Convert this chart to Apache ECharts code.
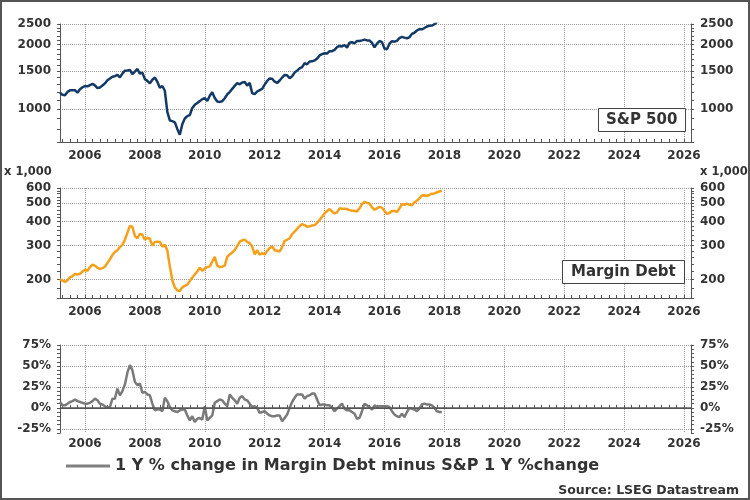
<html>

<head>
    <meta charset="utf-8" />
    <style>
        html, body { margin: 0; padding: 0; background: #fff; }
    </style>
</head>

<body>
    <div id="main" style="width:750px;height:500px"></div>
    <script src="https://cdn.jsdelivr.net/npm/echarts@6.0.0/dist/echarts.min.js"></script>
    <script>
        // monthly data, first point = March 2005
        var startYear = 2005;
        var startMonth = 3;

        // S&P 500, monthly
        var spx = [1191, 1164, 1160, 1202, 1222, 1224, 1225, 1192, 1237, 1262,
            1278, 1276, 1294, 1310, 1290, 1253, 1261, 1287, 1317, 1363, 1389, 1416,
            1424, 1444, 1407, 1464, 1511, 1515, 1523, 1455, 1497, 1539, 1463, 1479,
            1379, 1354, 1317, 1371, 1403, 1341, 1257, 1281, 1217, 968, 883, 877,
            866, 806, 757, 848, 902, 926, 935, 1010, 1045, 1067, 1088, 1111,
            1124, 1090, 1152, 1197, 1125, 1083, 1079, 1087, 1122, 1171, 1199, 1242,
            1282, 1321, 1304, 1331, 1338, 1287, 1325, 1185, 1173, 1207, 1226, 1243,
            1300, 1352, 1389, 1386, 1341, 1323, 1359, 1403, 1443, 1437, 1394, 1422,
            1480, 1512, 1550, 1570, 1639, 1619, 1669, 1671, 1688, 1721, 1781, 1807,
            1823, 1817, 1864, 1864, 1890, 1947, 1973, 1962, 1993, 1937, 2044, 2054,
            2028, 2082, 2080, 2095, 2112, 2095, 2094, 2040, 1944, 2024, 2081, 2055,
            1918, 1904, 2022, 2075, 2066, 2084, 2149, 2177, 2158, 2143, 2165, 2247,
            2275, 2330, 2367, 2359, 2395, 2434, 2454, 2457, 2493, 2557, 2594, 2664];

        // margin debt, x 1,000 (millions)
        var marginDebt = [201, 197, 194, 198, 205, 208, 214, 212, 214, 220,
            225, 222, 232, 239, 236, 230, 227, 229, 233, 244, 255, 268,
            278, 284, 295, 303, 322, 350, 381, 376, 338, 328, 346, 342,
            322, 330, 326, 300, 314, 315, 314, 296, 303, 284, 234, 198,
            182, 175, 174, 182, 185, 188, 196, 204, 212, 220, 230, 222,
            228, 232, 234, 248, 262, 236, 232, 233, 236, 262, 270, 276,
            285, 298, 315, 320, 322, 314, 309, 297, 270, 284, 269, 274,
            270, 282, 291, 298, 284, 282, 280, 295, 318, 322, 328, 345,
            355, 367, 380, 388, 384, 377, 379, 382, 384, 395, 408, 425,
            442, 455, 466, 452, 442, 448, 470, 468, 468, 466, 460, 457,
            456, 452, 470, 495, 508, 502, 498, 475, 462, 470, 478, 474,
            455, 440, 445, 455, 455, 450, 470, 495, 490, 498, 490, 488,
            505, 515, 530, 548, 550, 545, 552, 560, 562, 570, 575, 580];

        // 1Y % change in margin debt minus S&P 1Y % change
        var spread = [7, 3, 3, 5, 7, 8, 10, 8, 7, 6,
            5, 5, 6, 8, 11, 9, 5, 4, 2, 0, 1, 11,
            11, 23, 15, 20, 28, 42, 51, 45, 31, 27, 29, 18,
            19, 16, 15, 5, -3, -2, -2, -4, 12, 8, 1, -3,
            -4, -5, -3, -2, -2, -9, -15, -10, -17, -13, -12, -14,
            2, -15, -12, -9, 6, 8, 10, 9, 5, 2, 16, 12,
            9, 5, 12, 14, 10, 9, 5, 1, 2, 0, -6, -5,
            -4, -7, -9, -10, -10, -9, -9, -16, -12, -8, 0, 7,
            12, 16, 16, 16, 11, 14, 15, 17, 17, 10, 3, 4,
            4, 3, 3, 0, -4, -1, 2, 5, -1, -3, -3, -5,
            -7, -13, -12, -4, 5, 3, 1, -2, 3, 1, 2, 2,
            2, 2, 1, -4, -8, -10, -11, -7, -11, -5, 0, -1,
            -2, -4, -1, 4, 5, 4, 4, 3, 0, -4, -5, -5];

        // axis labels
        var yearTicks = [2006, 2008, 2010, 2012, 2014, 2016, 2018, 2020, 2022, 2024, 2026];
        var spxTicks = [1000, 1500, 2000, 2500];
        var mdTicks = [200, 300, 400, 500, 600];
        var spreadTicks = [-25, 0, 25, 50, 75];

        var spreadName = '1 Y % change in Margin Debt minus S&P 1 Y %change';
        var FONT = 'DejaVu Sans';
        var AXIS = '#555';
        var TXT = '#333';

        var xMin = startYear + (startMonth - 1) / 12;
        var xMax = 2026.234;

        function monthPos(i) {
            return startYear + (startMonth - 1 + i) / 12;
        }
        function pairs(arr) {
            return arr.map(function (v, i) { return [monthPos(i), v]; });
        }
        function steps(from, to, step) {
            var out = [];
            for (var v = from; v <= to + 1e-9; v += step) out.push(Math.round(v * 1000) / 1000);
            return out;
        }
        var quarterTicks = steps(2005.25, 2026, 0.25);

        function xAxesFor(grid, margin) {
            return [{
                type: 'value', gridIndex: grid, min: xMin, max: xMax,
                axisLine: { show: true, lineStyle: { color: AXIS, width: 1 } },
                axisTick: { show: true, inside: true, length: 3, customValues: quarterTicks, lineStyle: { color: AXIS } },
                axisLabel: {
                    customValues: yearTicks, margin: margin, color: TXT, fontFamily: FONT,
                    fontWeight: 'bold', fontSize: 12,
                    formatter: function (v) { return String(Math.round(v)); }
                },
                splitLine: { show: false }
            }, {
                type: 'value', gridIndex: grid, min: xMin, max: xMax, position: 'bottom',
                axisLine: { show: false },
                axisTick: { show: false, customValues: yearTicks },
                axisLabel: { show: false },
                splitLine: { show: true, lineStyle: { type: 'dotted', color: '#999', width: 1 } }
            }];
        }

        function yAxesFor(grid, type, min, max, labels, minor, fmt) {
            var label = {
                customValues: labels, margin: 9, color: TXT, fontFamily: FONT,
                fontWeight: 'bold', fontSize: 12, formatter: fmt
            };
            var tick = { show: true, inside: false, length: 3, customValues: minor, lineStyle: { color: AXIS } };
            var line = { show: true, lineStyle: { color: AXIS, width: 1 } };
            return [{
                type: type, gridIndex: grid, min: min, max: max, position: 'left',
                axisLine: line, axisTick: tick, axisLabel: label, splitLine: { show: false }
            }, {
                type: type, gridIndex: grid, min: min, max: max, position: 'right',
                axisLine: line, axisTick: tick, axisLabel: label, splitLine: { show: false }
            }, {
                type: type, gridIndex: grid, min: min, max: max, position: 'left',
                axisLine: { show: false },
                axisTick: { show: false, customValues: labels },
                axisLabel: { show: false },
                splitLine: { show: true, lineStyle: { type: 'dotted', color: '#999', width: 1 } }
            }];
        }

        var plain = function (v) { return String(v); };
        var pct = function (v) { return v + '%'; };

        var chart = echarts.init(document.getElementById('main'));
        var option = {
            animation: false,
            backgroundColor: '#fff',
            grid: [
                { left: 60, right: 59, top: 24, height: 118, outerBoundsMode: 'none' },
                { left: 60, right: 59, top: 188, height: 110, outerBoundsMode: 'none' },
                { left: 60, right: 59, top: 345, height: 88, outerBoundsMode: 'none' }
            ],
            xAxis: [].concat(xAxesFor(0, 8), xAxesFor(1, 8), xAxesFor(2, 5)),
            yAxis: [].concat(
                yAxesFor(0, 'log', 700, 2500, spxTicks, steps(700, 2500, 100), plain),
                yAxesFor(1, 'log', 160, 600, mdTicks, steps(160, 600, 20), plain),
                yAxesFor(2, 'value', -30, 75, spreadTicks, steps(-30, 75, 5), pct)
            ),
            title: [{
                text: 'S&P 500', left: 598, top: 108, padding: [4, 8],
                borderColor: '#444', borderWidth: 1, backgroundColor: '#fff',
                textStyle: { fontFamily: FONT, fontWeight: 'bold', fontSize: 15, color: TXT, lineHeight: 16 }
            }, {
                text: 'Margin Debt', left: 562, top: 260, padding: [4, 9],
                borderColor: '#444', borderWidth: 1, backgroundColor: '#fff',
                textStyle: { fontFamily: FONT, fontWeight: 'bold', fontSize: 15, color: TXT, lineHeight: 16 }
            }],
            legend: {
                data: [{ name: spreadName, icon: 'rect' }], left: 66, top: 458, itemWidth: 44, itemHeight: 3,
                selectedMode: false, padding: 0,
                itemStyle: { color: '#808080', borderWidth: 0 },
                textStyle: { fontFamily: FONT, fontWeight: 'bold', fontSize: 16, color: TXT }
            },
            graphic: [
                { type: 'rect', shape: { x: 1, y: 1, width: 748, height: 498 }, style: { fill: 'none', stroke: '#555', lineWidth: 2 }, silent: true },
                { type: 'text', x: 4, y: 172, style: { text: 'x 1,000', font: 'bold 11.5px "DejaVu Sans"', fill: TXT, verticalAlign: 'middle', align: 'left' } },
                { type: 'text', x: 700, y: 172, style: { text: 'x 1,000', font: 'bold 11.5px "DejaVu Sans"', fill: TXT, verticalAlign: 'middle', align: 'left' } },
                { type: 'text', x: 739, y: 491, style: { text: 'Source: LSEG Datastream', font: 'bold 12.5px "DejaVu Sans"', fill: TXT, verticalAlign: 'middle', align: 'right' } }
            ],
            series: [{
                name: 'S&P 500', type: 'line', xAxisIndex: 0, yAxisIndex: 0,
                data: pairs(spx), symbol: 'none', showSymbol: false, clip: true, silent: true,
                lineStyle: { color: '#133a66', width: 2.5 }, itemStyle: { color: '#133a66' }
            }, {
                name: 'Margin Debt', type: 'line', xAxisIndex: 2, yAxisIndex: 3,
                data: pairs(marginDebt), symbol: 'none', showSymbol: false, clip: true, silent: true,
                lineStyle: { color: '#f5a01a', width: 2.5 }, itemStyle: { color: '#f5a01a' }
            }, {
                name: spreadName, type: 'line', xAxisIndex: 4, yAxisIndex: 6,
                data: pairs(spread), symbol: 'none', showSymbol: false, clip: true, silent: true,
                lineStyle: { color: '#7a7a7a', width: 2.5 }, itemStyle: { color: '#7a7a7a' },
                markLine: {
                    silent: true, symbol: 'none', label: { show: false },
                    lineStyle: { type: 'solid', color: '#555', width: 1.5 },
                    data: [{ yAxis: 0 }]
                }
            }]
        };
        chart.setOption(option);
    </script>
</body>

</html>
